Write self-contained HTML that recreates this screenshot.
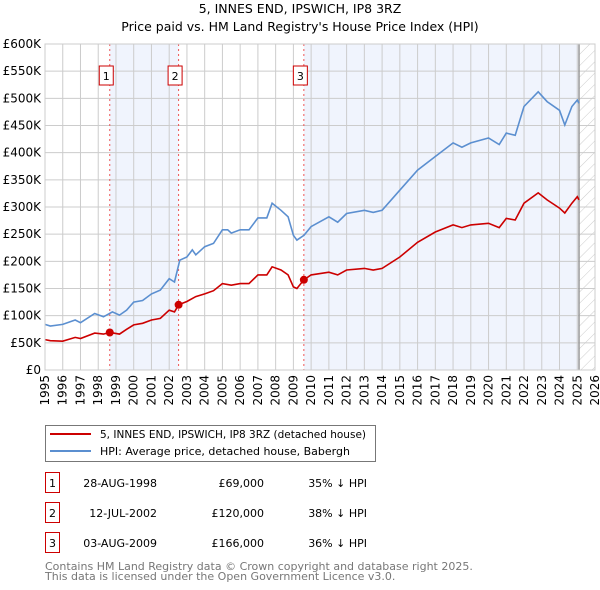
<!DOCTYPE html>
<html><head><meta charset="utf-8"><style>
body{margin:0;background:#fff;font-family:"DejaVu Sans","Liberation Sans",sans-serif;}
#wrap{position:relative;width:600px;height:590px;overflow:hidden}
</style></head><body>
<div id="wrap">
<svg id="chart" width="600" height="590" font-family="DejaVu Sans, Liberation Sans, sans-serif"></svg>
</div>
<script>
const hpiDates=[1995,1995.3,1996,1996.7,1997,1997.8,1998.3,1998.8,1999.2,1999.6,2000,2000.5,2001,2001.5,2002,2002.3,2002.6,2003,2003.3,2003.5,2004,2004.5,2005,2005.3,2005.5,2006,2006.5,2007,2007.5,2007.8,2008.3,2008.7,2009,2009.2,2009.6,2010,2011,2011.5,2012,2013,2013.5,2014,2015,2016,2017,2018,2018.5,2019,2020,2020.6,2021,2021.5,2022,2022.8,2023.3,2024,2024.3,2024.7,2025,2025.1];
const hpiValues=[84,81,84,92,87,104,98,107,101,110,125,128,140,147,168,162,202,208,221,212,227,233,258,258,252,258,258,280,280,307,294,282,248,239,248,264,282,272,288,294,290,294,331,368,393,418,410,418,427,415,436,432,485,512,494,478,451,485,497,491];
const priceDates=[1995,1995.3,1996,1996.7,1997,1997.8,1998.3,1998.65,1999.2,1999.6,2000,2000.5,2001,2001.5,2002,2002.3,2002.53,2003,2003.5,2004,2004.5,2005,2005.5,2006,2006.5,2007,2007.5,2007.8,2008.3,2008.7,2009,2009.2,2009.59,2010,2011,2011.5,2012,2013,2013.5,2014,2015,2016,2017,2018,2018.5,2019,2020,2020.6,2021,2021.5,2022,2022.8,2023.3,2024,2024.3,2024.7,2025,2025.1];
const priceValues=[56,54,53,60,58,68,66,69,66,75,83,86,92,95,110,107,120,126,135,140,146,159,156,159,159,175,175,190,184,175,153,150,166,175,180,175,184,187,184,187,208,235,254,267,262,267,270,262,279,276,307,326,313,298,289,307,319,313];
const saleDates=[1998.65,2002.53,2009.59];
const saleValues=[69,120,166];
const saleLabels=["1","2","3"];
const yTicks=[0,50,100,150,200,250,300,350,400,450,500,550,600];
const yTickLabels=["£0","£50K","£100K","£150K","£200K","£250K","£300K","£350K","£400K","£450K","£500K","£550K","£600K"];
const xTicks=[1995,1996,1997,1998,1999,2000,2001,2002,2003,2004,2005,2006,2007,2008,2009,2010,2011,2012,2013,2014,2015,2016,2017,2018,2019,2020,2021,2022,2023,2024,2025,2026];

const NS="http://www.w3.org/2000/svg";
const svg=document.getElementById('chart');
const L=45,R=595,T=44,B=370;
const x=d=>L+(d-1995)*(R-L)/31;
const y=v=>B-v*(B-T)/600;
function mk(tag,attrs,parent){const e=document.createElementNS(NS,tag);for(const k in attrs)e.setAttribute(k,attrs[k]);(parent||svg).appendChild(e);return e;}

let t=mk('text',{x:300,y:13,'text-anchor':'middle','font-size':12.5,fill:'#000'});t.textContent="5, INNES END, IPSWICH, IP8 3RZ";


t=mk('text',{x:300,y:31,'text-anchor':'middle','font-size':12.5,fill:'#000'});t.textContent="Price paid vs. HM Land Registry's House Price Index (HPI)";



let s=mk('rect',{x:x(saleDates[0]),y:T,width:x(saleDates[1])-x(saleDates[0]),height:B-T,fill:'#f0f4fd'});


s=mk('rect',{x:x(saleDates[2]),y:T,width:x(2025.1)-x(saleDates[2]),height:B-T,fill:'#f0f4fd'});


const defs=mk('defs',{});
const pat=mk('pattern',{id:'hatch',width:8,height:8,patternUnits:'userSpaceOnUse',patternTransform:'rotate(45)'},defs);
mk('line',{x1:0,y1:0,x2:0,y2:8,stroke:'#ccc','stroke-width':1},pat);
s=mk('rect',{x:x(2025.1),y:T,width:R-x(2025.1),height:B-T,fill:'url(#hatch)'});



yTicks.forEach((v,i)=>{
 const g=mk('line',{x1:L,x2:R,y1:y(v),y2:y(v),stroke:'#ccc','stroke-width':1});
 
 
 const lb=mk('text',{x:L-4,y:y(v)+4,'text-anchor':'end','font-size':12,fill:'#000'});lb.textContent=yTickLabels[i];
 
 
});
xTicks.forEach(d=>{
 const g=mk('line',{x1:x(d),x2:x(d),y1:T,y2:B,stroke:'#ccc','stroke-width':1});
 
 
 const lb=mk('text',{x:0,y:0,'text-anchor':'end','font-size':12,fill:'#000',transform:`translate(${x(d)+4},${B+5}) rotate(-90)`});lb.textContent=d;
 
 
});
let ln=mk('line',{x1:x(2025.1),x2:x(2025.1),y1:T,y2:B,stroke:'#999','stroke-width':1.5});



saleDates.forEach((d,i)=>{
 const v=mk('line',{x1:x(d),x2:x(d),y1:T,y2:B,stroke:'#e55','stroke-width':1,'stroke-dasharray':'2,3'});
 
 
});

function path(ds,vs){return ds.map((d,i)=>(i?'L':'M')+x(d).toFixed(1)+','+y(vs[i]).toFixed(1)).join(' ');}
let p=mk('path',{d:path(hpiDates,hpiValues),fill:'none',stroke:'#5b8fd0','stroke-width':1.6});


p=mk('path',{d:path(priceDates,priceValues),fill:'none',stroke:'#cc0000','stroke-width':1.6});



saleDates.forEach((d,i)=>{
 const c=mk('circle',{cx:x(d),cy:y(saleValues[i]),r:4,fill:'#cc0000'});
 
 
 const bx=x(d)-3.5;
 const r=mk('rect',{x:bx-7,y:66,width:14,height:19,fill:'#fff',stroke:'#c00','stroke-width':1});
 
 
 const tt=mk('text',{x:bx,y:80,'text-anchor':'middle','font-size':11,fill:'#000'});tt.textContent=saleLabels[i];
 
 
});
let fr=mk('rect',{x:L,y:T,width:R-L,height:B-T,fill:'none',stroke:'#ccc'});



const lg=mk('g',{});


mk('rect',{x:45.5,y:425.5,width:330,height:36,fill:'#fff',stroke:'#777'},lg);
mk('line',{x1:50,x2:91,y1:434,y2:434,stroke:'#cc0000','stroke-width':2},lg);
mk('line',{x1:50,x2:91,y1:451,y2:451,stroke:'#5b8fd0','stroke-width':2},lg);
let e=mk('text',{x:100,y:438,'font-size':11,textLength:266,lengthAdjust:'spacingAndGlyphs'},lg);e.textContent="5, INNES END, IPSWICH, IP8 3RZ (detached house)";


e=mk('text',{x:100,y:455,'font-size':11},lg);e.textContent="HPI: Average price, detached house, Babergh";



const dates=["28-AUG-1998","12-JUL-2002","03-AUG-2009"],prices=["£69,000","£120,000","£166,000"],pcts=["35% ↓ HPI","38% ↓ HPI","36% ↓ HPI"];
dates.forEach((dt,i)=>{
 const yy=483+i*30;
 const row=mk('g',{});
 
 
 mk('rect',{x:45.5,y:yy-10.5,width:14,height:20,fill:'none',stroke:'#c00'},row);
 let a=mk('text',{x:52.5,y:yy+4,'text-anchor':'middle','font-size':11},row);a.textContent=i+1;
 a=mk('text',{x:157,y:yy+4,'text-anchor':'end','font-size':11},row);a.textContent=dt;
 a=mk('text',{x:264,y:yy+4,'text-anchor':'end','font-size':11},row);a.textContent=prices[i];
 a=mk('text',{x:367,y:yy+4,'text-anchor':'end','font-size':11},row);a.textContent=pcts[i];
});
e=mk('text',{x:45,y:570,'font-size':11,fill:'#777'});e.textContent="Contains HM Land Registry data © Crown copyright and database right 2025.";


e=mk('text',{x:45,y:580,'font-size':11,fill:'#777'});e.textContent="This data is licensed under the Open Government Licence v3.0.";


</script>
</body></html>
